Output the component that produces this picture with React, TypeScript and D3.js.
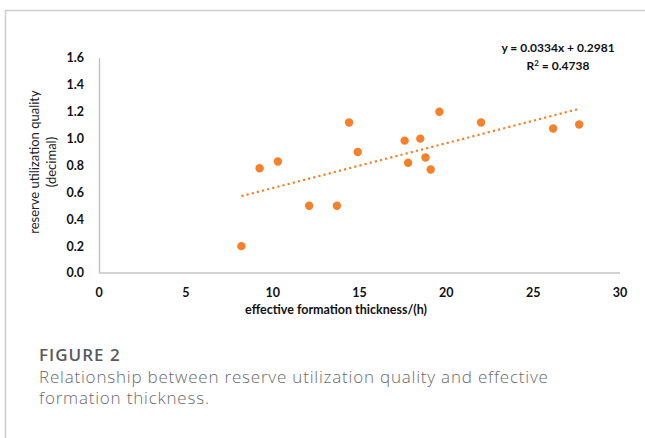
import React from "react";
import * as d3 from "d3";

// Effective formation thickness (h) and reserve utilization quality (decimal)
const thickness = [8.2, 9.25, 10.3, 12.1, 13.7, 14.4, 14.9, 17.6, 17.8, 18.5, 18.8, 19.1, 19.6, 22.0, 26.15, 27.65];
const quality = [0.2, 0.78, 0.83, 0.5, 0.5, 1.12, 0.9, 0.985, 0.82, 1.0, 0.86, 0.77, 1.2, 1.12, 1.075, 1.105];

const xTicks = [0, 5, 10, 15, 20, 25, 30];
const yTicks = [0, 0.2, 0.4, 0.6, 0.8, 1.0, 1.2, 1.4, 1.6];

// Linear trend reported on the chart
const slope = 0.0334;
const intercept = 0.2981;
const rSquared = 0.4738;

const W = 645;
const H = 438;
const ORANGE = "#f7802a";
const AXIS = "#c4c4c4";
const CHART_FONT = "Lato, 'Open Sans', sans-serif";
const CAPTION_FONT = "'Open Sans', Lato, sans-serif";

export default function App() {
  const x = d3.scaleLinear().domain([0, 30]).range([99, 620]);
  const y = d3.scaleLinear().domain([0, 1.6]).range([273, 58]);

  const [xMin, xMax] = d3.extent(thickness) as [number, number];
  const trend = d3
    .line<number>()
    .x((d) => x(d))
    .y((d) => y(slope * d + intercept));

  return (
    <svg
      width={W}
      height={H}
      viewBox={`0 0 ${W} ${H}`}
      style={{ position: "absolute", left: 0, top: 0, background: "#fff" }}
    >
      {/* frame */}
      <path d={`M5.5,${H} V10.5 H${W}`} fill="none" stroke="#cfcfcf" strokeWidth={1.6} />

      {/* axes */}
      <line x1={x(0)} x2={x(30)} y1={y(0)} y2={y(0)} stroke={AXIS} strokeWidth={1.5} />
      <line x1={x(0) + 0.5} x2={x(0) + 0.5} y1={y(1.6)} y2={y(0)} stroke={AXIS} strokeWidth={1.5} />

      <g fontFamily={CHART_FONT} fontWeight={700} fontSize={12.5} fill="#111">
        {yTicks.map((t) => (
          <text key={`y${t}`} x={84} y={y(t)} dy="0.35em" textAnchor="end">
            {d3.format(".1f")(t)}
          </text>
        ))}
        {xTicks.map((t) => (
          <text key={`x${t}`} x={x(t)} y={297} textAnchor="middle">
            {t}
          </text>
        ))}
        <text x={336} y={314} textAnchor="middle">
          effective formation thickness/(h)
        </text>
        <text x={558} y={52} textAnchor="middle" fontSize={12}>
          {`y = ${slope}x + ${intercept}`}
        </text>
        <text x={558} y={70} textAnchor="middle" fontSize={12}>
          R<tspan dy={-4} fontSize={8}>2</tspan>
          <tspan dy={4}>{` = ${rSquared}`}</tspan>
        </text>
      </g>

      {/* y axis title */}
      <g
        fontFamily={CHART_FONT}
        fontSize={13}
        fontWeight={400}
        fill="#222"
        transform="translate(44,162) rotate(-90)"
      >
        <text x={0} y={-5} textAnchor="middle">
          reserve utilization quality
        </text>
        <text x={0} y={12} textAnchor="middle">
          (decimal)
        </text>
      </g>

      {/* trend line */}
      <path
        d={trend([xMin, xMax]) ?? ""}
        fill="none"
        stroke={ORANGE}
        strokeWidth={2.2}
        strokeDasharray="2.2 3.1"
      />

      {/* points */}
      {thickness.map((t, i) => (
        <circle key={i} cx={x(t)} cy={y(quality[i])} r={4.2} fill={ORANGE} />
      ))}

      {/* caption */}
      <g fontFamily={CAPTION_FONT}>
        <text x={39} y={361} fontSize={17} fontWeight={600} letterSpacing={1} fill="#5a5a5a">
          FIGURE 2
        </text>
        <text x={39} y={383} fontSize={17} fontWeight={300} letterSpacing={0.8} fill="#6a6a6a">
          Relationship between reserve utilization quality and effective
        </text>
        <text x={39} y={404} fontSize={17} fontWeight={300} letterSpacing={0.8} fill="#6a6a6a">
          formation thickness.
        </text>
      </g>
    </svg>
  );
}
